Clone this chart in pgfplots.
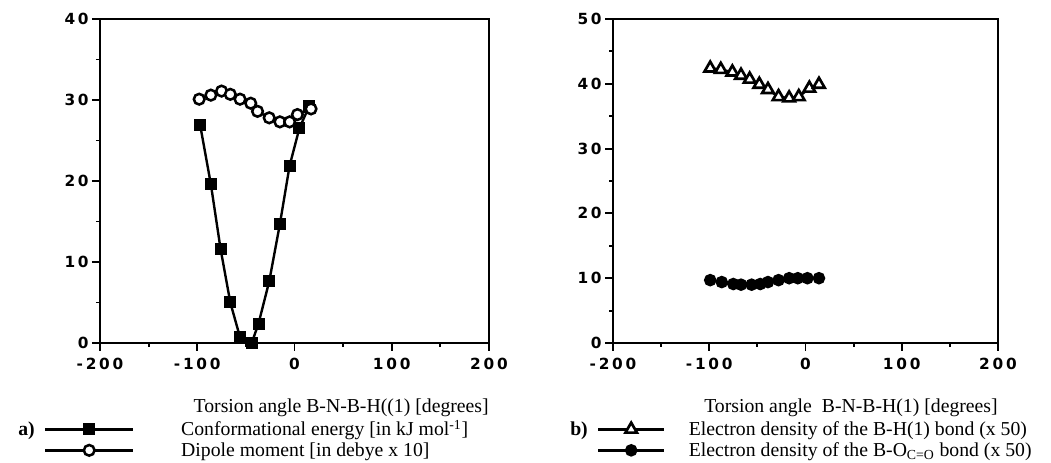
\documentclass[border=0pt]{standalone}
\usepackage{fontspec}
\setmainfont{Liberation Serif}
\newfontfamily\tickfont[LetterSpace=18]{DejaVu Sans Bold}
\usepackage{pgfplots}
\pgfplotsset{compat=1.18}

\pgfplotsset{
  panel/.style={
    scale only axis,
    xmin=-200, xmax=200, ymin=0,
    xtick={-200,-100,0,100,200},
    minor x tick num=1, minor y tick num=1,
    tick align=outside, xtick pos=bottom, ytick pos=left,
    major tick length=6pt, minor tick length=3pt,
    axis line style={line width=1.8pt},
    every tick/.style={black, line width=1.4pt},
    tick label style={font=\fontsize{11.5}{14}\tickfont},
    xticklabel style={yshift=-1.5pt},
    yticklabel style={xshift=1pt},
    /pgf/number format/assume math mode=true,
    xlabel style={at={(axis description cs:1,0)}, anchor=base east,
      yshift=-52.5pt, inner sep=0pt, font=\fontsize{14.8}{16}\selectfont},
    legend cell align=left,
    legend style={at={(axis description cs:0,0)}, anchor=north west,
      yshift=-57.75pt, draw=none, fill=none, inner sep=0pt, outer sep=0pt,
      row sep=1.75pt, font=\fontsize{14.8}{16}\selectfont,
      nodes={inner sep=0pt, text height=12pt, text depth=2pt}},
  },
  curve/.style={black, line width=1.8pt},
}

\begin{document}
\begin{tikzpicture}
\useasboundingbox (0,0) rectangle (788.25pt,347.25pt);

% a) energy and dipole moment
\begin{axis}[panel,
  at={(75pt,90pt)}, anchor=south west,
  width=291.75pt, height=243pt,
  ymax=40, ytick={0,10,20,30,40},
  xlabel={Torsion angle B-N-B-H((1) [degrees]},
  legend style={xshift=-42pt},
  legend image code/.code={
    \draw[mark repeat=2, mark phase=2, #1] plot coordinates {(0pt,0pt) (33pt,0pt) (66pt,0pt)};
    \path[draw=none] (0pt,0pt) -- (102pt,0pt);
  },
]
\addplot[curve, mark=square*, mark size=3.6pt] coordinates {
  (-97,26.9) (-86,19.6) (-76,11.6) (-66,5.0) (-56,0.7) (-44,0)
  (-37,2.4) (-26,7.6) (-15,14.7) (-5,21.9) (5,26.5) (15,29.2)
};
\addlegendentry{Conformational energy [in kJ mol\textsuperscript{-1}]}
\addplot[curve, mark=*, mark size=4pt, mark options={fill=white, line width=1.9pt}] coordinates {
  (-98,30.1) (-86,30.6) (-75,31.1) (-66,30.7) (-56,30.1) (-45,29.6)
  (-38,28.6) (-26,27.8) (-15,27.3) (-5,27.3) (3,28.2) (17,28.9)
};
\addlegendentry{Dipole moment [in debye x 10]}
\end{axis}

% b) electron densities
\begin{axis}[panel,
  at={(459.75pt,90pt)}, anchor=south west,
  width=288.75pt, height=243pt,
  ymax=50, ytick={0,10,20,30,40,50},
  xlabel={Torsion angle\ \ B-N-B-H(1) [degrees]},
  legend style={xshift=-12pt},
  legend image code/.code={
    \draw[mark repeat=2, mark phase=2, #1] plot coordinates {(0pt,0pt) (24.75pt,0pt) (49.5pt,0pt)};
    \path[draw=none] (0pt,0pt) -- (68pt,0pt);
  },
]
\addplot[curve, mark=triangle*, mark size=5pt, mark options={fill=white, line width=2pt}] coordinates {
  (-99,42.4) (-88,42.2) (-76,41.8) (-67,41.3) (-58,40.7) (-48,39.9)
  (-39,39.1) (-28,38.0) (-17,37.8) (-7,38.0) (4,39.3) (14,39.9)
};
\addlegendentry{Electron density of the B-H(1) bond (x 50)}
\addplot[curve, mark=*, mark size=3.8pt] coordinates {
  (-99,9.7) (-87,9.4) (-75,9.1) (-67,9.0) (-56,9.0) (-47,9.1)
  (-39,9.4) (-28,9.7) (-17,10.0) (-8,10.0) (2,10.0) (14,10.0)
};
\addlegendentry{Electron density of the B-O\textsubscript{C=O} bond (x 50)}
\end{axis}

\node[anchor=base west, inner sep=0pt, font=\fontsize{14.8}{16}\selectfont\bfseries] at (13.5pt,20.25pt) {a)};
\node[anchor=base west, inner sep=0pt, font=\fontsize{14.8}{16}\selectfont\bfseries] at (427.5pt,20.25pt) {b)};
\end{tikzpicture}
\end{document}
